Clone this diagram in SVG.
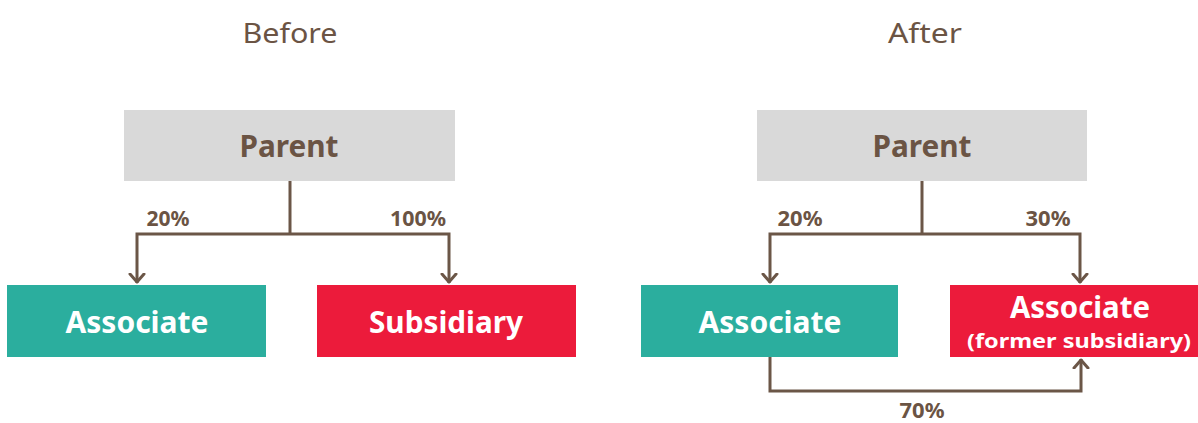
<svg xmlns="http://www.w3.org/2000/svg" width="1198" height="423" viewBox="0 0 1198 423">
<defs>
<marker id="chev" markerUnits="userSpaceOnUse" markerWidth="20" markerHeight="20" viewBox="-10 -10 20 20" refX="0" refY="0" orient="auto">
<path d="M-9,-7 L-1,0 L-9,7" fill="none" stroke="#6b5647" stroke-width="3" stroke-linecap="round" stroke-linejoin="round"/>
</marker>
</defs>
<style>
.title{font-family:"Noto Sans","Open Sans",sans-serif;font-size:27px;fill:#6b5444;text-anchor:middle}
.big{font-family:"Noto Sans","Open Sans",sans-serif;font-size:30px;font-weight:bold;text-anchor:middle}
.pct{font-family:"Noto Sans","Open Sans",sans-serif;font-size:21px;font-weight:bold;fill:#6b5444;text-anchor:middle}
.small{font-family:"Noto Sans","Open Sans",sans-serif;font-size:20px;font-weight:bold;fill:#ffffff;text-anchor:middle}
.conn{fill:none;stroke:#6b5647;stroke-width:3}
.gray{fill:#d9d9d9}
.teal{fill:#2bae9e}
.red{fill:#ec1b3b}
</style>
<rect width="1198" height="423" fill="#ffffff"/>
<text class="title" x="290" y="43" textLength="95" lengthAdjust="spacingAndGlyphs">Before</text>
<text class="title" x="925" y="43" textLength="74" lengthAdjust="spacingAndGlyphs">After</text>

<g id="parent-before">
<rect class="gray" x="124" y="110" width="331" height="71"/>
<text class="big" x="289" y="157" fill="#6b5444" textLength="99" lengthAdjust="spacingAndGlyphs">Parent</text>
</g>
<g id="associate-before">
<rect class="teal" x="7" y="285" width="259" height="72"/>
<text class="big" x="137" y="333" fill="#ffffff" textLength="143" lengthAdjust="spacingAndGlyphs">Associate</text>
</g>
<g id="subsidiary-before">
<rect class="red" x="317" y="285" width="259" height="72"/>
<text class="big" x="446" y="333" fill="#ffffff" textLength="154" lengthAdjust="spacingAndGlyphs">Subsidiary</text>
</g>

<g id="parent-after">
<rect class="gray" x="757" y="110" width="330" height="71"/>
<text class="big" x="922" y="157" fill="#6b5444" textLength="99" lengthAdjust="spacingAndGlyphs">Parent</text>
</g>
<g id="associate-after">
<rect class="teal" x="641" y="285" width="257" height="72"/>
<text class="big" x="770" y="333" fill="#ffffff" textLength="143" lengthAdjust="spacingAndGlyphs">Associate</text>
</g>
<g id="former-subsidiary-after">
<rect class="red" x="950" y="285" width="248" height="72"/>
<text class="big" x="1080" y="318" fill="#ffffff" textLength="140" lengthAdjust="spacingAndGlyphs">Associate</text>
<text class="small" x="1079" y="348" textLength="224" lengthAdjust="spacingAndGlyphs">(former subsidiary)</text>
</g>

<g id="connectors">
<path class="conn" d="M290,181 V234"/>
<path class="conn" d="M290,234 H137 V283" marker-end="url(#chev)"/>
<path class="conn" d="M290,234 H449 V283" marker-end="url(#chev)"/>
<path class="conn" d="M922,181 V234"/>
<path class="conn" d="M922,234 H770 V283" marker-end="url(#chev)"/>
<path class="conn" d="M922,234 H1080 V283" marker-end="url(#chev)"/>
<path class="conn" d="M770,357 V391 H1081 V359" marker-end="url(#chev)"/>
<text class="pct" x="168" y="226" textLength="43" lengthAdjust="spacingAndGlyphs">20%</text>
<text class="pct" x="418" y="226" textLength="56" lengthAdjust="spacingAndGlyphs">100%</text>
<text class="pct" x="800" y="226" textLength="45" lengthAdjust="spacingAndGlyphs">20%</text>
<text class="pct" x="1048" y="226" textLength="45" lengthAdjust="spacingAndGlyphs">30%</text>
<text class="pct" x="922" y="418" textLength="45" lengthAdjust="spacingAndGlyphs">70%</text>
</g>
</svg>
